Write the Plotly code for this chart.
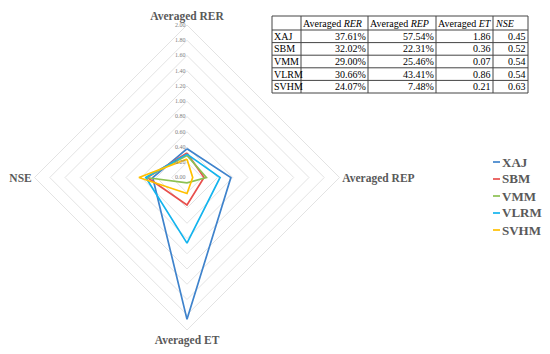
import plotly.graph_objects as go

# ---- data ----
axes = ["Averaged RER", "Averaged REP", "Averaged ET", "NSE"]
models = ["XAJ", "SBM", "VMM", "VLRM", "SVHM"]
rer = [0.3761, 0.3202, 0.2900, 0.3066, 0.2407]
rep = [0.5754, 0.2231, 0.2546, 0.4341, 0.0748]
et = [1.86, 0.36, 0.07, 0.86, 0.21]
nse = [0.45, 0.52, 0.54, 0.54, 0.63]
colors = ["#3f83cc", "#e8504d", "#8cc152", "#14b4ee", "#ffc000"]

table_header = ["", "Averaged <i>RER</i>", "Averaged <i>REP</i>", "Averaged <i>ET</i>", "<i>NSE</i>"]
rer_txt = ["37.61%", "32.02%", "29.00%", "30.66%", "24.07%"]
rep_txt = ["57.54%", "22.31%", "25.46%", "43.41%", "7.48%"]
et_txt = ["1.86", "0.36", "0.07", "0.86", "0.21"]
nse_txt = ["0.45", "0.52", "0.54", "0.54", "0.63"]

W, H = 550, 354
SERIF = "Liberation Serif"

fig = go.Figure()
for i, m in enumerate(models):
    vals = [rer[i], rep[i], et[i], nse[i]]
    fig.add_trace(go.Scatterpolar(
        r=vals + [vals[0]], theta=axes + [axes[0]], mode="lines", name=m,
        line=dict(color=colors[i], width=1.7), showlegend=False))

px = lambda x: x / W
py = lambda y: 1 - y / H

# ---- table drawn with shapes and annotations ----
col_edges = [272, 301, 368, 436, 493, 528]
row_edges = [16, 30, 42.6, 55.2, 67.8, 80.4, 93]
shapes = []
for x in col_edges:
    shapes.append(dict(type="line", xref="paper", yref="paper", x0=px(x), x1=px(x),
                       y0=py(row_edges[0]), y1=py(row_edges[-1]), line=dict(color="#444", width=1)))
for y in row_edges:
    shapes.append(dict(type="line", xref="paper", yref="paper", x0=px(col_edges[0]), x1=px(col_edges[-1]),
                       y0=py(y), y1=py(y), line=dict(color="#444", width=1)))
annots = []
tfont = dict(family=SERIF, size=10, color="black")
for j, t in enumerate(table_header):
    if t:
        annots.append(dict(text=t, xref="paper", yref="paper", x=px(col_edges[j]), y=py((row_edges[0] + row_edges[1]) / 2),
                           xanchor="left", yanchor="middle", showarrow=False, font=tfont))
cols = [models, rer_txt, rep_txt, et_txt, nse_txt]
for j, col in enumerate(cols):
    for i, t in enumerate(col):
        yc = py((row_edges[i + 1] + row_edges[i + 2]) / 2)
        if j == 0:
            annots.append(dict(text=t, xref="paper", yref="paper", x=px(col_edges[0]), y=yc,
                               xanchor="left", yanchor="middle", showarrow=False, font=tfont))
        else:
            annots.append(dict(text=t, xref="paper", yref="paper", x=px(col_edges[j + 1]), y=yc,
                               xanchor="right", yanchor="middle", showarrow=False, font=tfont))

# ---- legend (short line samples + bold labels) ----
leg_x0, leg_x1, leg_y0, leg_dy = 493, 500, 162, 17
for i, m in enumerate(models):
    yy = leg_y0 + i * leg_dy
    shapes.append(dict(type="line", xref="paper", yref="paper", x0=px(leg_x0), x1=px(leg_x1),
                       y0=py(yy), y1=py(yy), line=dict(color=colors[i], width=1.7)))
    annots.append(dict(text="<b>%s</b>" % m, xref="paper", yref="paper", x=px(leg_x1), y=py(yy),
                       xanchor="left", yanchor="middle", showarrow=False,
                       font=dict(family=SERIF, size=13, color="#595959")))

fig.update_layout(
    width=W, height=H, margin=dict(l=0, r=0, t=0, b=0),
    paper_bgcolor="white", plot_bgcolor="white", showlegend=False,
    polar=dict(
        domain=dict(x=[px(34), px(340)], y=[py(330), py(25)]),
        gridshape="linear", bgcolor="white",
        radialaxis=dict(range=[0, 2], dtick=0.2, tick0=0, tickformat=".2f", angle=90, tickangle=90,
                        side="counterclockwise", showline=False, gridcolor="#e3e3e3", gridwidth=1,
                        ticks="", tickfont=dict(family=SERIF, size=6, color="#808080")),
        angularaxis=dict(rotation=90, direction="clockwise", showgrid=False,
                         linecolor="#e3e3e3", linewidth=1, ticks="",
                         tickfont=dict(family=SERIF, size=11.5, color="#595959", weight="bold")),
    ),
    shapes=shapes, annotations=annots,
)

fig.write_html("out.html", config={"displayModeBar": False},
               post_script="document.body.style.margin='0';document.body.style.padding='0';")
